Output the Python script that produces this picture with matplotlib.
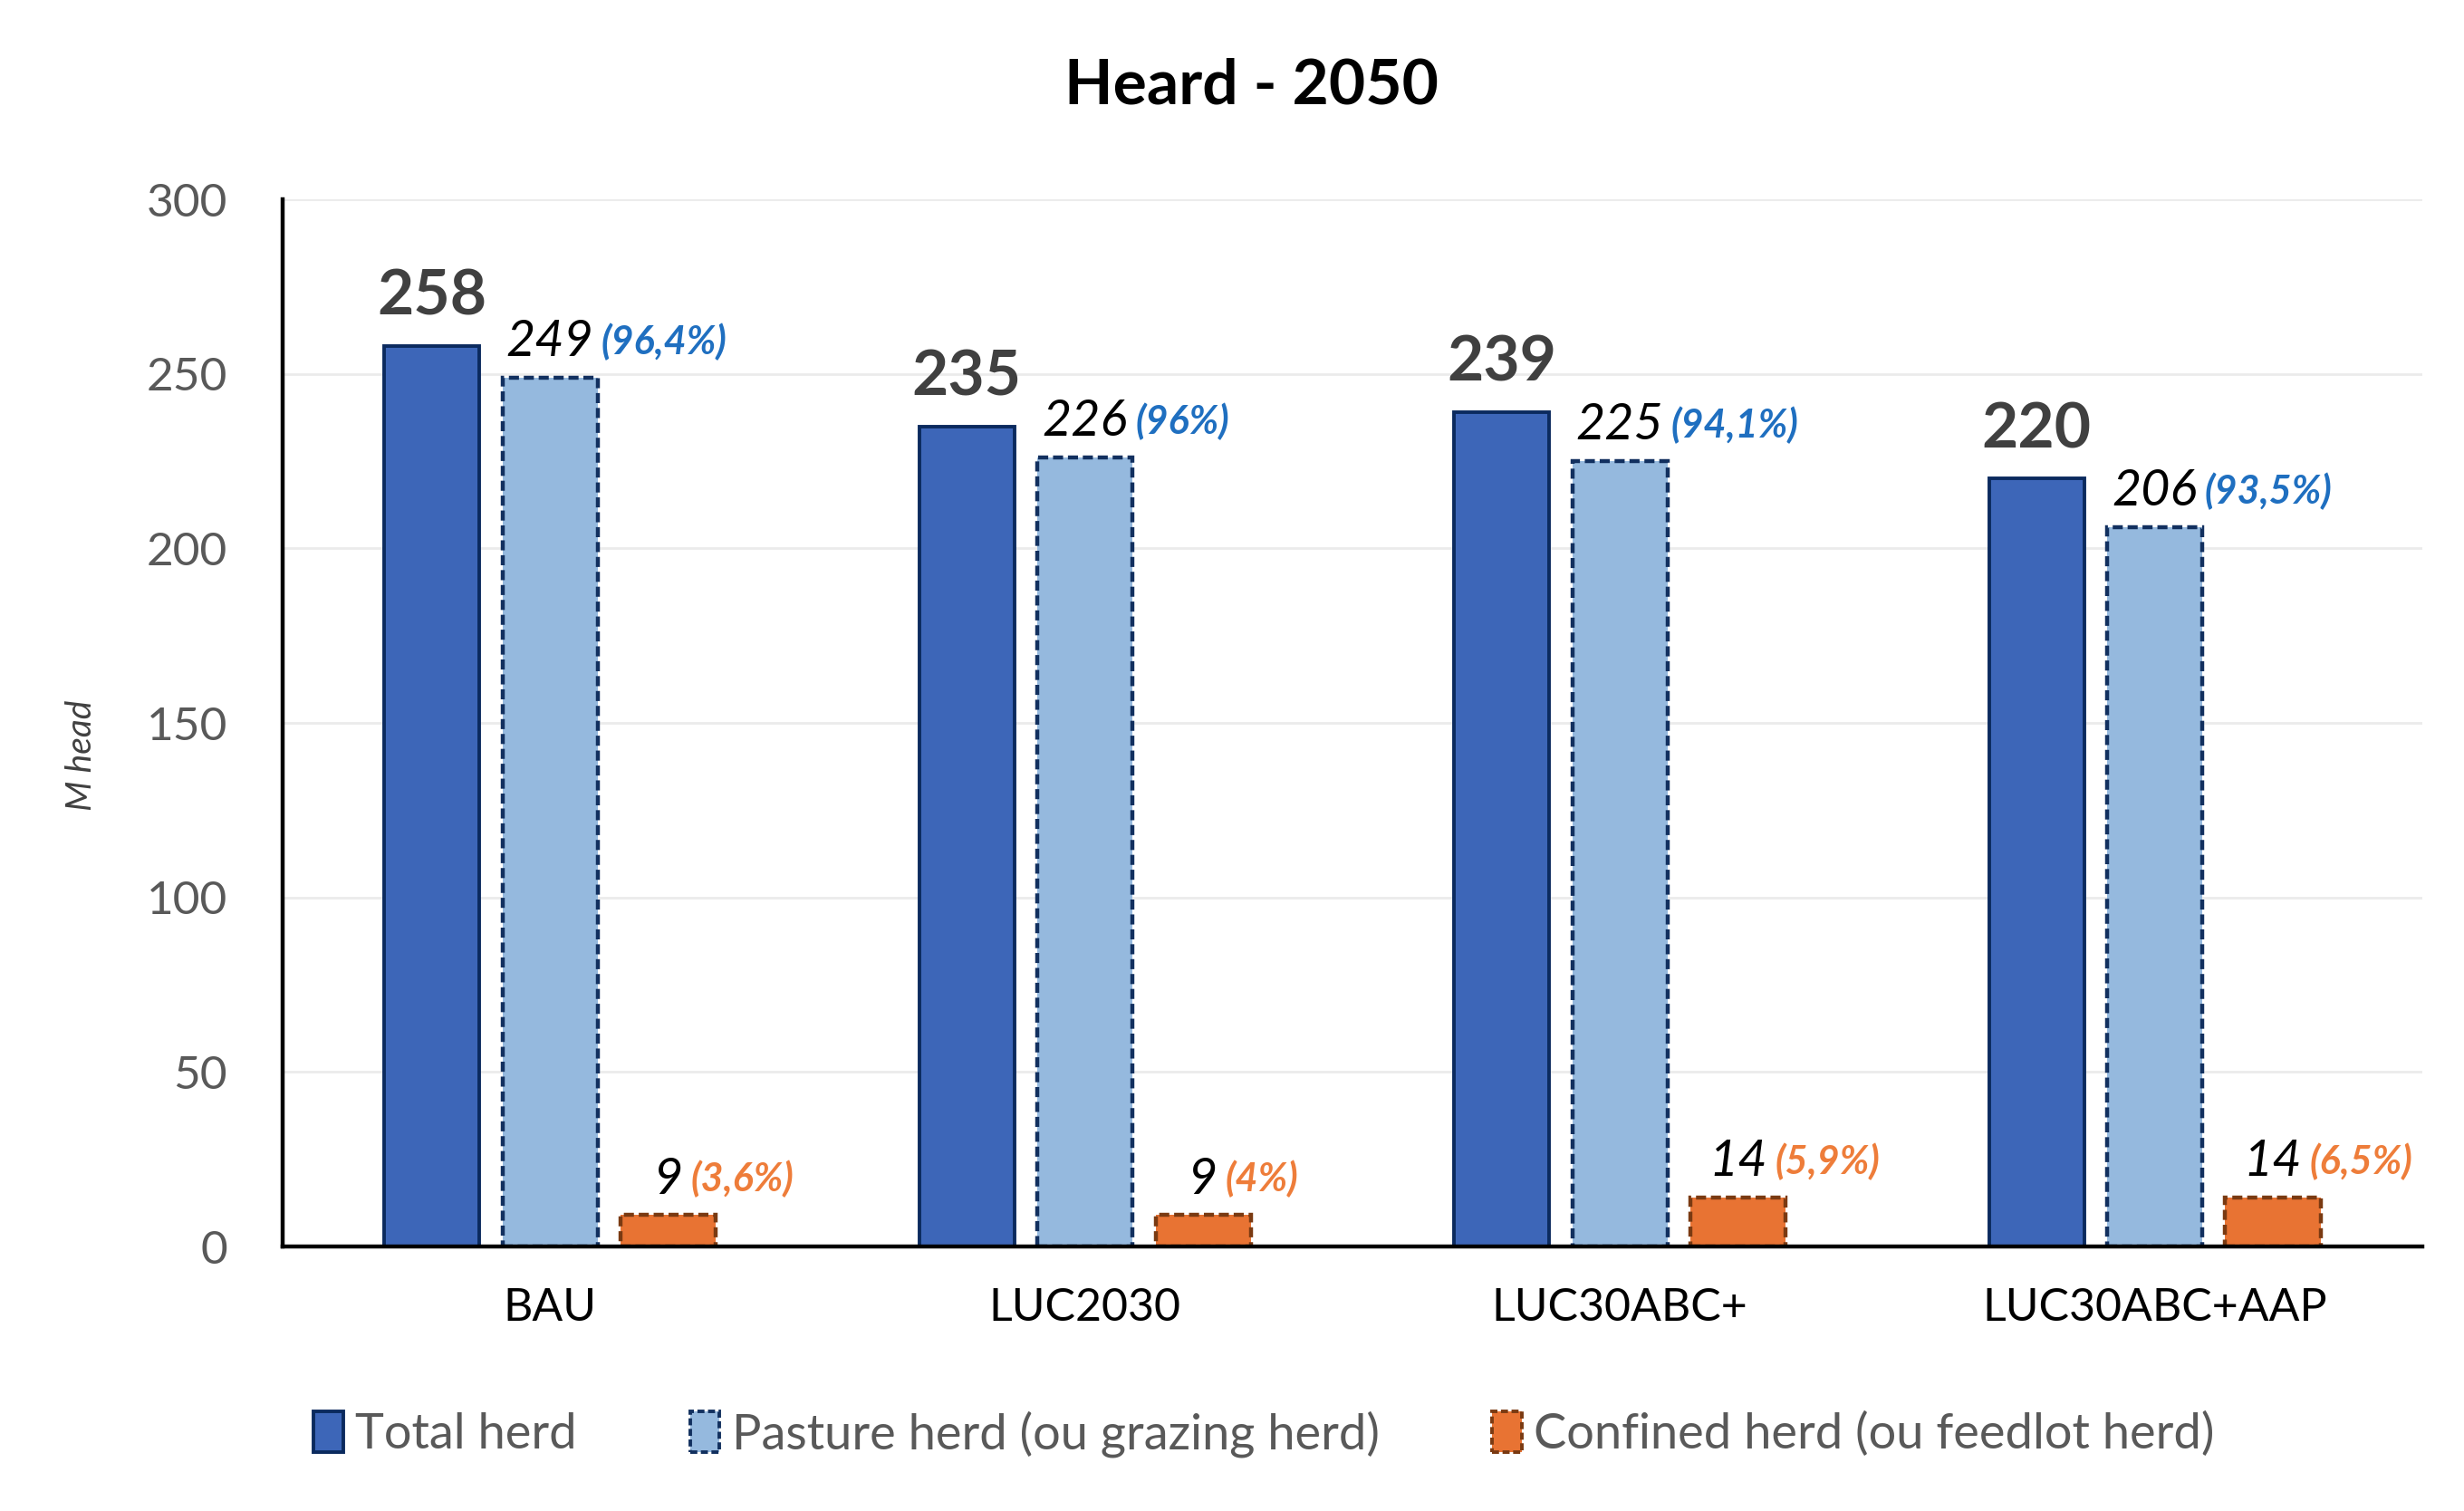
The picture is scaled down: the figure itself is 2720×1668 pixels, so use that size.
import numpy as np
import matplotlib.pyplot as plt
from matplotlib.patches import Patch

plt.rcParams['font.family'] = ['Lato', 'DejaVu Sans']

scenarios = ['BAU', 'LUC2030', 'LUC30ABC+', 'LUC30ABC+AAP']
totalHerd = [258, 235, 239, 220]
pastureHerd = [249, 226, 225, 206]
confinedHerd = [9, 9, 14, 14]
pasturePct = ['(96,4%)', '(96%)', '(94,1%)', '(93,5%)']
confinedPct = ['(3,6%)', '(4%)', '(5,9%)', '(6,5%)']
yTicks = [0, 50, 100, 150, 200, 250, 300]

totalColor = '#3D66B8'
totalEdge = '#0B2A5E'
pastureColor = '#95B9DE'
pastureEdge = '#12305F'
confinedColor = '#E87333'
confinedEdge = '#7A3A12'
pctBlue = '#1F6FC0'
pctOrange = '#EE7D3A'

fig = plt.figure(figsize=(13.6, 8.34), dpi=200)
ax = fig.add_axes([0.1147, 0.175, 0.8683, 0.693])

x = np.arange(len(scenarios))
w = 0.178
step = 0.221
dash = (0, (2.5, 1.2))

barsTotal = ax.bar(x - step, totalHerd, w, color=totalColor, edgecolor=totalEdge,
                   linewidth=1.4, zorder=3)
barsPasture = ax.bar(x, pastureHerd, w, color=pastureColor, edgecolor=pastureEdge,
                     linewidth=1.6, linestyle=dash, zorder=3)
barsConfined = ax.bar(x + step, confinedHerd, w, color=confinedColor, edgecolor=confinedEdge,
                      linewidth=1.6, linestyle=dash, zorder=3)

# labels
for i in range(len(scenarios)):
    ax.annotate(str(totalHerd[i]), xy=(x[i] - step, totalHerd[i]), xytext=(0, 8),
                textcoords='offset points', ha='center', va='bottom',
                fontsize=25, fontweight='bold', color='#404040')
    num = ax.annotate(str(pastureHerd[i]), xy=(x[i], pastureHerd[i]), xytext=(0, 5),
                      textcoords='offset points', ha='center', va='bottom',
                      fontsize=20, fontstyle='italic', color='black')
    ax.annotate(pasturePct[i], xy=(1, 0.1), xycoords=num, xytext=(3, 0),
                textcoords='offset points', ha='left', va='bottom',
                fontsize=15.5, fontstyle='italic', fontweight='bold', color=pctBlue)
    num = ax.annotate(str(confinedHerd[i]), xy=(x[i] + step, confinedHerd[i]), xytext=(0, 5),
                      textcoords='offset points', ha='center', va='bottom',
                      fontsize=20, fontstyle='italic', color='black')
    ax.annotate(confinedPct[i], xy=(1, 0.1), xycoords=num, xytext=(3, 0),
                textcoords='offset points', ha='left', va='bottom',
                fontsize=15.5, fontstyle='italic', fontweight='bold', color=pctOrange)

ax.set_xlim(-0.5, 3.5)
ax.set_ylim(0, 300)
ax.set_yticks(yTicks)
ax.set_xticks(x)
ax.set_xticklabels(scenarios, fontsize=18, color='black')
ax.tick_params(axis='y', length=0, pad=22, labelsize=18.5, labelcolor='#595959')
ax.tick_params(axis='x', length=0, pad=16)
ax.yaxis.grid(True, color='#EBEBEB', linewidth=1.0, zorder=0)
ax.set_axisbelow(True)

for s in ['top', 'right']:
    ax.spines[s].set_visible(False)
ax.spines['left'].set_linewidth(1.6)
ax.spines['bottom'].set_linewidth(1.6)
ax.spines['left'].set_zorder(4)
ax.spines['bottom'].set_zorder(4)

fig.text(0.033, 0.5, 'M head', rotation=90, ha='center', va='center',
         fontsize=14, fontstyle='italic', color='#404040')
fig.text(0.508, 0.943, 'Heard - 2050', ha='center', va='center',
         fontsize=25, fontweight='bold', color='black')

handles = [
    Patch(facecolor=totalColor, edgecolor=totalEdge, linewidth=1.4),
    Patch(facecolor=pastureColor, edgecolor=pastureEdge, linewidth=1.4, linestyle=(0, (2, 1))),
    Patch(facecolor=confinedColor, edgecolor=confinedEdge, linewidth=1.4, linestyle=(0, (2, 1))),
]
labels = ['Total herd', 'Pasture herd (ou grazing herd)', 'Confined herd (ou feedlot herd)']
fig.legend(handles, labels, loc='center', bbox_to_anchor=(0.513, 0.051), ncol=3,
           frameon=False, fontsize=19.5, labelcolor='#595959', handlelength=0.6,
           handleheight=0.9, handletextpad=0.25, columnspacing=2.3)

fig.savefig('out.png', dpi=200, facecolor='white')
